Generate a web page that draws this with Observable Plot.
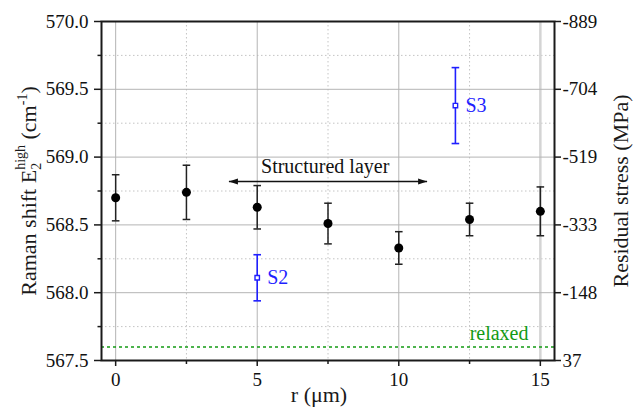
<!DOCTYPE html>
<html>
<head>
<meta charset="utf-8">
<script src="https://cdn.jsdelivr.net/npm/d3@7"></script>
<script src="https://cdn.jsdelivr.net/npm/@observablehq/plot@0.6"></script>
<style>
  html, body { margin: 0; padding: 0; background: #fff; }
  #chart svg { display: block; font-family: "Liberation Serif", "Times New Roman", serif; }
  #chart svg text { font-family: "Liberation Serif", "Times New Roman", serif !important; }
</style>
</head>
<body>
<div id="chart"></div>
<script>
// ---- data ----
const r = [0, 2.5, 5, 7.5, 10, 12.5, 15];
const shift = [568.70, 568.74, 568.63, 568.51, 568.33, 568.54, 568.60];
const err = [0.17, 0.20, 0.16, 0.15, 0.12, 0.12, 0.18];

const sampleNames = ["S2", "S3"];
const sampleR = [5, 12];
const sampleShift = [568.11, 569.38];
const sampleErr = [0.17, 0.28];

const relaxedShift = 567.6;
const relaxedLabel = "relaxed";

const layerX = [4, 11];
const layerY = 568.82;
const layerLabel = "Structured layer";
const layerLabelX = 7.4;
const layerLabelY = 568.93;

const xTicks = [0, 5, 10, 15];
const xMinor = [2.5, 7.5, 12.5];
const yTicks = [567.5, 568.0, 568.5, 569.0, 569.5, 570.0];
const yMinor = [567.75, 568.25, 568.75, 569.25, 569.75];
const stressLabels = ["37", "-148", "-333", "-519", "-704", "-889"];

const xTitle = "r (μm)";
const yTitle = "Raman shift E_2^high (cm^-1)";
const y2Title = "Residual stress (MPa)";

// ---- tables ----
const points = r.map((x, i) => ({r: x, shift: shift[i], lo: shift[i] - err[i], hi: shift[i] + err[i]}));
const samples = sampleNames.map((n, i) => ({name: n, r: sampleR[i], shift: sampleShift[i], lo: sampleShift[i] - sampleErr[i], hi: sampleShift[i] + sampleErr[i]}));
const stressMap = new Map(yTicks.map((v, i) => [v, stressLabels[i]]));

// custom symbols
const capSymbol = {draw(ctx) { ctx.moveTo(-3.8, 0); ctx.lineTo(3.8, 0); }};
const headRight = {draw(ctx) { ctx.moveTo(0, 0); ctx.lineTo(-9, -3); ctx.lineTo(-9, 3); ctx.closePath(); }};
const headLeft = {draw(ctx) { ctx.moveTo(0, 0); ctx.lineTo(9, -3); ctx.lineTo(9, 3); ctx.closePath(); }};

const serif = "Liberation Serif";
const ink = "#1a1a1a";
const blue = "#1f1fff";
const green = "#139a13";

const chart = Plot.plot({
  width: 633,
  height: 408,
  marginLeft: 101,
  marginRight: 79,
  marginTop: 21,
  marginBottom: 48,
  style: `font-family: 'Liberation Serif', 'Times New Roman', serif; font-size: 19px; color: ${ink}; background: #fff;`,
  x: {domain: [-0.5, 15.5], label: null},
  y: {domain: [567.5, 570], label: null},
  marks: [
    // grid
    Plot.gridX(xMinor, {stroke: "#c4c4c4", strokeOpacity: 1, strokeDasharray: "1.5,2.5"}),
    Plot.gridY(yMinor, {stroke: "#c4c4c4", strokeOpacity: 1, strokeDasharray: "1.5,2.5"}),
    Plot.gridX([0, 5, 10], {stroke: "#b4b4b4", strokeOpacity: 1, strokeWidth: 1}),
    Plot.gridX([15], {stroke: "#d4d4d4", strokeOpacity: 1, strokeWidth: 2.5}),
    Plot.gridY(yTicks.slice(1, -1), {stroke: "#b4b4b4", strokeOpacity: 1, strokeWidth: 1}),
    // relaxed reference
    Plot.ruleY([relaxedShift], {stroke: green, strokeWidth: 1.5, strokeDasharray: "3,3"}),
    Plot.text([relaxedLabel], {frameAnchor: "right", y: () => relaxedShift, text: d => d, textAnchor: "end", lineAnchor: "middle", dx: -26, dy: -13, fill: green, fontSize: 20, fontFamily: serif}),
    // main series
    Plot.ruleX(points, {x: "r", y1: "lo", y2: "hi", stroke: "#222", strokeWidth: 1.5}),
    Plot.dot(points, {x: "r", y: "lo", symbol: capSymbol, stroke: "#222", fill: "none", strokeWidth: 1.5}),
    Plot.dot(points, {x: "r", y: "hi", symbol: capSymbol, stroke: "#222", fill: "none", strokeWidth: 1.5}),
    Plot.dot(points, {x: "r", y: "shift", r: 4.5, fill: "#000", stroke: "none"}),
    // samples
    Plot.ruleX(samples, {x: "r", y1: "lo", y2: "hi", stroke: blue, strokeWidth: 1.6}),
    Plot.dot(samples, {x: "r", y: "lo", symbol: capSymbol, stroke: blue, fill: "none", strokeWidth: 1.6}),
    Plot.dot(samples, {x: "r", y: "hi", symbol: capSymbol, stroke: blue, fill: "none", strokeWidth: 1.6}),
    Plot.dot(samples, {x: "r", y: "shift", symbol: "square", r: 2.5, fill: "#fff", stroke: blue, strokeWidth: 1.4}),
    Plot.text(samples, {x: "r", y: "shift", text: "name", textAnchor: "start", dx: 10, fill: blue, fontSize: 20, fontFamily: serif}),
    // structured layer arrow
    Plot.link([layerX], {x1: d => d[0], x2: d => d[1], y1: () => layerY, y2: () => layerY, stroke: "#111", strokeWidth: 1.5}),
    Plot.dot([layerX[0]], {x: d => d, y: () => layerY, symbol: headLeft, fill: "#111", stroke: "none"}),
    Plot.dot([layerX[1]], {x: d => d, y: () => layerY, symbol: headRight, fill: "#111", stroke: "none"}),
    Plot.text([layerLabel], {x: () => layerLabelX, y: () => layerLabelY, text: d => d, fill: "#111", fontSize: 20, fontFamily: serif}),
    // frame
    Plot.frame({stroke: ink, strokeWidth: 2}),
    // axes
    Plot.axisX(xTicks, {anchor: "bottom", tickSize: 6, tickPadding: 5.5, fontSize: 19, fontFamily: serif, fill: "#111", strokeWidth: 1.5, label: null}),
    Plot.axisX(xMinor, {anchor: "bottom", tickSize: 4, tickFormat: () => "", strokeWidth: 1.5, label: null}),
    Plot.axisY(yTicks, {anchor: "left", tickSize: 7, tickPadding: 6, tickFormat: d3.format(".1f"), fontSize: 19, fontFamily: serif, fill: "#111", strokeWidth: 1.5, label: null}),
    Plot.axisY(yMinor, {anchor: "left", tickSize: 3.5, tickFormat: () => "", strokeWidth: 1.5, label: null}),
    Plot.axisY(yTicks, {anchor: "right", tickSize: 6, tickPadding: 2, tickFormat: d => stressMap.get(d), fontSize: 19, fontFamily: serif, fill: "#111", strokeWidth: 1.5, label: null}),
    // axis titles
    Plot.text([xTitle], {frameAnchor: "bottom", text: d => d, textAnchor: "middle", lineAnchor: "middle", dx: -9, dy: 34.5, fontSize: 22, fontFamily: serif}),
    Plot.text([yTitle], {frameAnchor: "left", text: d => d, rotate: -90, textAnchor: "middle", lineAnchor: "middle", dx: -73, fontSize: 22, fontFamily: serif}),
    Plot.text([y2Title], {frameAnchor: "right", text: d => d, rotate: -90, textAnchor: "middle", lineAnchor: "middle", dx: 66, fontSize: 22, fontFamily: serif})
  ]
});

// rich text for the left title (subscript / superscript)
d3.select(chart).selectAll("text").filter(function() { return this.textContent === yTitle; }).each(function() {
  const t = d3.select(this);
  t.text("");
  t.append("tspan").text("Raman shift E");
  t.append("tspan").attr("font-size", 14).attr("dy", 5).text("2");
  t.append("tspan").attr("font-size", 14).attr("dx", -7).attr("dy", -16).text("high");
  t.append("tspan").attr("dy", 11).text(" (cm");
  t.append("tspan").attr("font-size", 14).attr("dy", -9).text("-1");
  t.append("tspan").attr("dy", 9).text(")");
});

document.getElementById("chart").append(chart);
</script>
</body>
</html>
